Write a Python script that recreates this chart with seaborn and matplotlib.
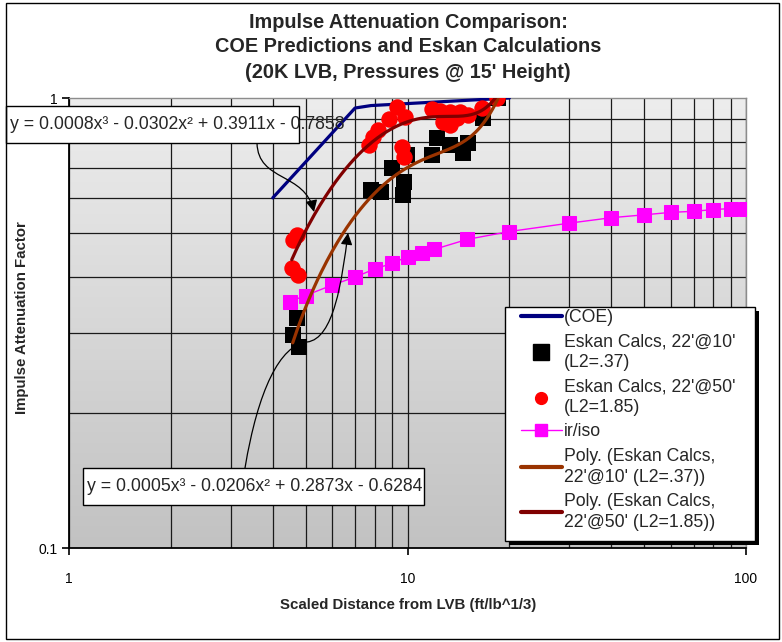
import numpy as np
import pandas as pd
import seaborn as sns
import matplotlib
matplotlib.use("Agg")
import matplotlib.pyplot as plt
from matplotlib.patches import Rectangle, FancyArrowPatch
from matplotlib.path import Path
from matplotlib.lines import Line2D
from matplotlib.ticker import FixedLocator, NullFormatter, FixedFormatter

# ---------------- data ----------------
coe_x = [4.0, 7.0, 7.8, 20.0]
coe_y = [0.60, 0.95, 0.962, 1.00]

eskan10_x = [4.71, 4.58, 4.78, 7.79, 8.33, 8.98, 9.76, 9.72, 9.95, 12.20, 11.79,
             13.36, 14.62, 15.12, 16.75, 18.55]
eskan10_y = [0.324, 0.297, 0.280, 0.625, 0.617, 0.698, 0.652, 0.609, 0.747, 0.814,
             0.747, 0.786, 0.754, 0.793, 0.901, 1.00]

eskan50_x = [4.71, 4.60, 4.55, 4.76, 7.71, 7.93, 8.20, 8.84, 9.29, 9.83, 9.61, 9.76,
             11.79, 12.47, 13.36, 14.30, 15.12, 12.76, 13.36, 13.98, 16.57, 18.35]
eskan50_y = [0.496, 0.484, 0.418, 0.404, 0.786, 0.820, 0.849, 0.897, 0.956, 0.906,
             0.780, 0.740, 0.945, 0.936, 0.932, 0.932, 0.917, 0.886, 0.871, 0.901,
             0.952, 1.00]

iriso_x = [4.5, 5, 6, 7, 8, 9, 10, 11, 12, 15, 20, 30, 40, 50, 60, 70, 80, 90, 100]
iriso_y = [0.353, 0.364, 0.384, 0.400, 0.417, 0.429, 0.444, 0.452, 0.461, 0.485,
           0.505, 0.527, 0.542, 0.550, 0.557, 0.560, 0.565, 0.568, 0.568]

title_lines = ["Impulse Attenuation Comparison:",
               "COE Predictions and Eskan Calculations",
               "(20K LVB, Pressures @ 15' Height)"]
eq50_text = "y = 0.0008x³ - 0.0302x² + 0.3911x - 0.7858"
eq10_text = "y = 0.0005x³ - 0.0206x² + 0.2873x - 0.6284"
labels = ["(COE)", "Eskan Calcs, 22'@10'\n(L2=.37)", "Eskan Calcs, 22'@50'\n(L2=1.85)",
          "ir/iso", "Poly. (Eskan Calcs,\n22'@10' (L2=.37))",
          "Poly. (Eskan Calcs,\n22'@50' (L2=1.85))"]

# polynomial trendlines (3rd order, fitted to the points)
def poly_curve(xs, ys):
    c = np.polyfit(xs, ys, 3)
    xx = np.linspace(min(xs), max(xs), 200)
    return xx, np.polyval(c, xx)

p10_x, p10_y = poly_curve(eskan10_x, eskan10_y)
p50_x, p50_y = poly_curve(eskan50_x, eskan50_y)

# ---------------- figure ----------------
sns.set_theme(style="white")
plt.rcParams["font.family"] = ["Liberation Sans", "DejaVu Sans"]

W, H = 782, 642
fig = plt.figure(figsize=(W / 100, H / 100), dpi=100)
fig.patch.set_facecolor("white")

def fx(px):
    return px / W

def fy(py):
    return 1 - py / H

ax_l, ax_r, ax_t, ax_b = 69, 746, 98, 548
ax = fig.add_axes([fx(ax_l), fy(ax_b), fx(ax_r) - fx(ax_l), fy(ax_t) - fy(ax_b)])
ax.set_xscale("log")
ax.set_yscale("log")
ax.set_xlim(1, 100)
ax.set_ylim(0.1, 1)

# gradient background
grad = np.linspace(0, 1, 256).reshape(-1, 1)
ax.imshow(grad, extent=[0, 1, 0, 1], transform=ax.transAxes, aspect="auto",
          cmap=matplotlib.colors.LinearSegmentedColormap.from_list(
              "g", ["#c2c2c2", "#ededed"]), origin="lower", zorder=0)

# grid
xmaj = [1, 10, 100]
xmin = [2, 3, 4, 5, 6, 7, 8, 9, 20, 30, 40, 50, 60, 70, 80, 90]
ymin = [0.2, 0.3, 0.4, 0.5, 0.6, 0.7, 0.8, 0.9]
for v in xmaj + xmin:
    ax.axvline(v, color="#1a1a1a", lw=0.9, zorder=1)
for v in ymin:
    ax.axhline(v, color="#1a1a1a", lw=0.9, zorder=1)

# series
sns.lineplot(x=iriso_x, y=iriso_y, ax=ax, color="#FF00FF", lw=1.0, marker="s",
             markersize=9.5, markeredgecolor="#FF00FF", sort=False, zorder=3,
             legend=False)
sns.lineplot(x=coe_x, y=coe_y, ax=ax, color="#000080", lw=2.3, sort=False, zorder=3,
             legend=False)
sns.scatterplot(x=eskan10_x, y=eskan10_y, ax=ax, color="black", marker="s", s=125,
                edgecolor="black", linewidth=0, zorder=4, legend=False)
sns.scatterplot(x=eskan50_x, y=eskan50_y, ax=ax, color="#FF0000", marker="o", s=140,
                edgecolor="#FF0000", linewidth=0, zorder=4, legend=False)
sns.lineplot(x=p10_x, y=p10_y, ax=ax, color="#993300", lw=2.3, sort=False, zorder=5,
             legend=False)
sns.lineplot(x=p50_x, y=p50_y, ax=ax, color="#800000", lw=2.3, sort=False, zorder=5,
             legend=False)

# axes styling
for s in ["top", "right"]:
    ax.spines[s].set_color("#8c8c8c")
    ax.spines[s].set_linewidth(1.0)
for s in ["left", "bottom"]:
    ax.spines[s].set_color("black")
    ax.spines[s].set_linewidth(1.3)
ax.xaxis.set_major_locator(FixedLocator(xmaj))
ax.xaxis.set_major_formatter(FixedFormatter(["1", "10", "100"]))
ax.xaxis.set_minor_locator(FixedLocator([]))
ax.yaxis.set_major_locator(FixedLocator([0.1, 1]))
ax.yaxis.set_major_formatter(FixedFormatter(["0.1", "1"]))
ax.yaxis.set_minor_locator(FixedLocator([]))
ax.yaxis.set_minor_formatter(NullFormatter())
ax.xaxis.set_minor_formatter(NullFormatter())
ax.tick_params(axis="x", which="major", direction="out", length=5, width=1.2,
               pad=12, labelsize=10, colors="black", bottom=True)
ax.tick_params(axis="y", which="major", direction="out", length=5, width=1.2,
               pad=3, labelsize=10, colors="black", left=True)
ax.set_xlabel("")
ax.set_ylabel("")

# titles / axis labels
fig.text(fx(408), fy(47), "\n".join(title_lines), ha="center", va="center",
         fontsize=14.3, fontweight="bold", linespacing=1.4)
fig.text(fx(408), fy(605), "Scaled Distance from LVB (ft/lb^1/3)", ha="center",
         va="center", fontsize=10.8, fontweight="bold")
fig.text(fx(22), fy(318), "Impulse Attenuation Factor", ha="center", va="center",
         rotation=90, fontsize=10.8, fontweight="bold")

# equation boxes
def eq_box(x0, y0, x1, y1, txt):
    fig.patches.append(Rectangle((fx(x0), fy(y1)), fx(x1) - fx(x0), fy(y0) - fy(y1),
                                 transform=fig.transFigure, facecolor="white",
                                 edgecolor="black", lw=1.0, zorder=10))
    fig.text(fx(x0 + 4), fy((y0 + y1) / 2), txt, ha="left", va="center",
             fontsize=12.7, zorder=11)

eq_box(6, 106, 299, 143, eq50_text)
eq_box(83, 468, 424, 505, eq10_text)

# connector arrows (curved) in figure pixel coords
def bez_arrow(pts):
    verts = [(fx(p[0]), fy(p[1])) for p in pts]
    codes = [Path.MOVETO] + [Path.CURVE4] * (len(pts) - 1)
    arr = FancyArrowPatch(path=Path(verts, codes), transform=fig.transFigure,
                          arrowstyle="-|>,head_length=7,head_width=3.5",
                          color="black", lw=0.9, zorder=9, mutation_scale=1)
    fig.patches.append(arr)

bez_arrow([(257, 143), (258, 182), (305, 172), (314, 212)])
bez_arrow([(245, 468), (258, 390), (280, 345), (307, 342),
           (334, 339), (342, 280), (348, 233)])

# legend with custom frame
handles = [
    Line2D([], [], color="#000080", lw=3.0),
    Line2D([], [], color="black", marker="s", ls="none", markersize=11),
    Line2D([], [], color="#FF0000", marker="o", ls="none", markersize=8.5),
    Line2D([], [], color="#FF00FF", marker="s", lw=1.0, markersize=8.5),
    Line2D([], [], color="#993300", lw=3.0),
    Line2D([], [], color="#800000", lw=3.0),
]
leg_l, leg_t, leg_r, leg_b = 505, 307, 755, 541
fig.patches.append(Rectangle((fx(leg_l + 4), fy(leg_b + 4)), fx(leg_r) - fx(leg_l),
                             fy(leg_t) - fy(leg_b), transform=fig.transFigure,
                             facecolor="black", edgecolor="black", lw=0, zorder=12))
fig.patches.append(Rectangle((fx(leg_l), fy(leg_b)), fx(leg_r) - fx(leg_l),
                             fy(leg_t) - fy(leg_b), transform=fig.transFigure,
                             facecolor="white", edgecolor="black", lw=1.0, zorder=13))
leg = fig.legend(handles, labels, loc="upper left",
                 bbox_to_anchor=(fx(521), fy(309)), frameon=False,
                 fontsize=12.7, handlelength=2.3, handletextpad=0.15,
                 labelspacing=0.40, borderpad=0.0, borderaxespad=0.0)
for t in leg.get_texts():
    t.set_linespacing(1.32)
leg.set_zorder(14)

# outer chart border
fig.patches.append(Rectangle((fx(6), fy(639)), fx(779) - fx(6), fy(3) - fy(639),
                             transform=fig.transFigure, facecolor="none",
                             edgecolor="black", lw=1.0, zorder=20))

fig.savefig("out.png", dpi=100, facecolor="white")
